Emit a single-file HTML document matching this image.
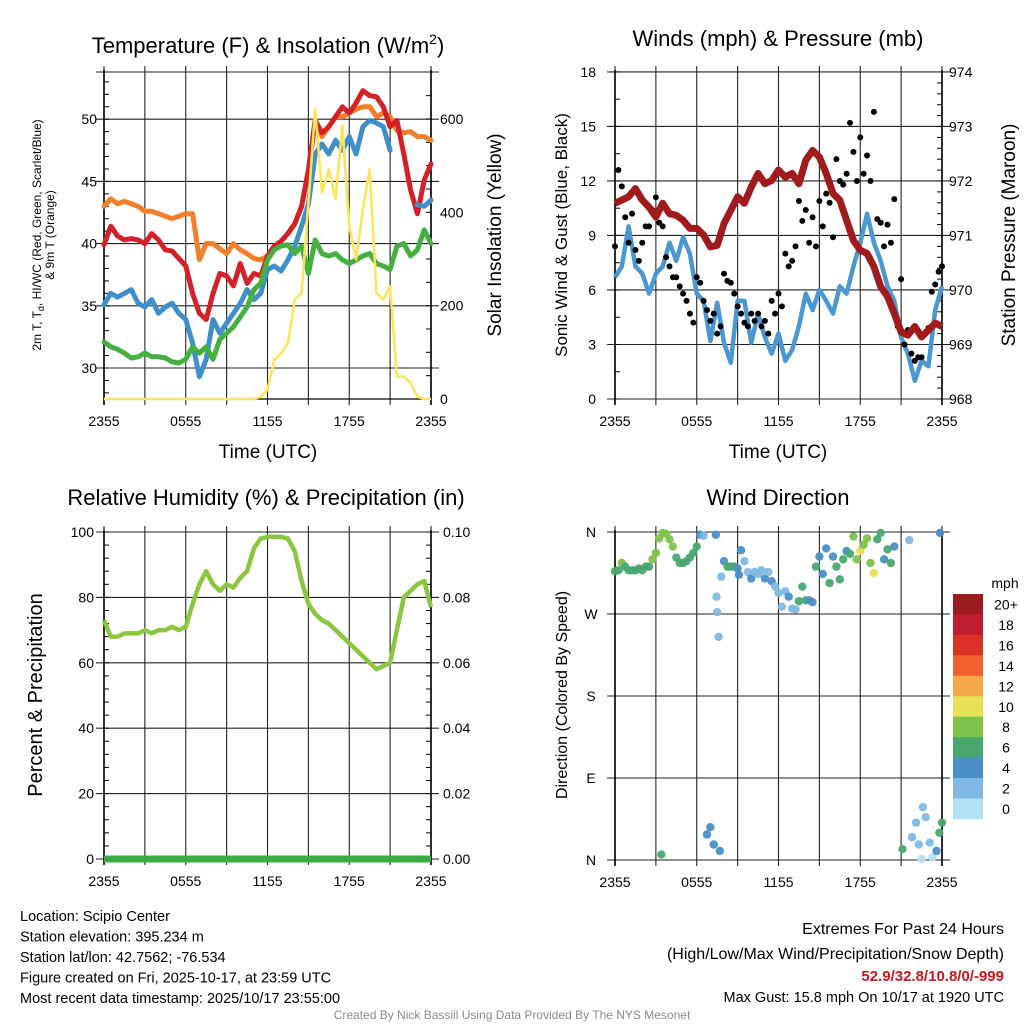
<!DOCTYPE html>
<html><head><meta charset="utf-8"><style>
html,body{margin:0;padding:0;background:#fff;}
svg{display:block;font-family:"Liberation Sans",sans-serif;}
</style></head><body>
<svg id="c" width="1024" height="1024" viewBox="0 0 1024 1024" xmlns="http://www.w3.org/2000/svg"></svg>
<script>
// ---------- DATA (half-hourly from 2355 UTC, 49 points) ----------
const xTickLabels = ["2355","0555","1155","1755","2355"];
const xTickHours = [0,6,12,18,24];
const tempTicks = [30,35,40,45,50];
const solarTicks = [0,200,400,600];
const windTicks = [0,3,6,9,12,15,18];
const presTicks = [968,969,970,971,972,973,974];
const rhTicks = [0,20,40,60,80,100];
const precipTicks = ["0.00","0.02","0.04","0.06","0.08","0.10"];
const dirTicks = ["N","W","S","E","N"];
const cbarLabels = ["20+","18","16","14","12","10","8","6","4","2","0"];
const cbarColors = ["#9b1b1e","#be1e2d","#dc3127","#f0622e","#f6a84b","#e8e057","#7dc24b","#4aa66f","#4a8fc6","#7fb9e3","#b5e0f7"];

const temp9m = [43.0,43.6,43.2,43.4,43.2,43.0,42.6,42.6,42.4,42.2,42.0,42.2,42.4,42.4,38.7,40.0,40.0,39.6,39.2,40.0,39.5,39.2,38.8,38.7,39.0,39.8,40.2,40.8,41.6,43.0,45.9,49.9,48.6,49.4,50.2,50.2,50.5,50.8,51.0,51.0,50.2,50.5,50.2,49.1,48.9,49.0,48.6,48.6,48.3];
const temp2m = [39.9,41.4,40.6,40.3,40.4,40.3,40.0,40.8,40.3,39.5,39.4,38.8,38.2,36.0,34.4,33.9,36.0,37.6,37.4,36.6,38.4,36.8,37.6,37.4,39.0,39.8,40.2,40.8,41.6,43.0,45.9,49.9,48.9,49.4,50.2,51.0,50.5,51.3,52.3,51.9,51.8,51.0,49.4,49.9,47.2,44.3,42.4,45.1,46.4];
const heatIndex = [35.1,36.0,35.7,36.0,36.3,35.2,34.9,35.5,34.4,34.9,35.2,34.4,33.9,32.0,29.3,30.7,33.9,32.8,33.6,34.4,35.2,36.3,35.5,36.0,37.9,38.2,37.8,38.7,39.8,41.4,43.2,47.2,48.0,47.2,48.3,47.5,48.6,47.2,49.4,49.9,49.7,49.4,47.5,null,null,null,43.1,43.0,43.5];
const dewpoint = [32.1,31.7,31.5,31.2,30.8,30.9,31.2,30.9,30.9,30.8,30.5,30.4,30.7,31.7,31.2,31.7,30.7,32.3,32.8,33.3,34.1,34.9,36.3,36.8,38.7,39.5,39.8,39.9,39.2,39.8,37.6,40.3,39.2,39.0,39.2,38.7,38.4,38.7,39.0,39.2,38.4,38.2,37.9,39.8,40.0,39.0,39.5,41.1,40.0];
const solar = [0,0,0,0,0,0,0,0,0,0,0,0,0,0,0,0,0,0,0,0,0,0,0,5,20,84,98,120,213,227,420,621,442,492,428,586,370,299,406,492,227,213,241,48,48,34,5,0,0];

const pressure = [971.59,971.65,971.71,971.86,971.65,971.52,971.34,971.59,971.40,971.37,971.28,971.13,971.13,971.01,970.79,970.82,971.22,971.46,971.71,971.59,971.89,972.14,971.95,972.01,972.20,972.07,972.14,971.95,972.38,972.56,972.44,972.14,971.77,971.65,971.28,970.91,970.73,970.67,970.43,970.06,969.88,969.57,969.23,969.17,969.33,969.14,969.26,969.39,969.33];
const windSpeed = [6.7,7.3,9.5,7.3,6.9,5.8,6.9,7.3,8.6,7.6,8.9,8.0,5.8,5.4,3.2,5.3,3.1,2.0,5.4,5.4,3.1,4.7,3.4,2.5,3.6,2.1,2.7,4.0,5.8,4.9,6.0,5.4,4.7,6.2,5.8,7.3,8.6,10.2,8.6,7.6,6.2,5.4,3.4,2.5,1.0,2.1,1.8,4.9,6.2];
const gustA = [8.4,11.7,8.6,8.2,8.6,9.5,11.1,9.5,7.3,6.7,5.8,4.7,6.7,5.4,4.3,3.6,6.9,6.4,5.1,4.2,4.7,4.7,4.3,5.4,5.8,8.0,7.6,10.9,10.4,10.0,10.9,11.3,8.9,12.0,12.4,13.6,14.4,13.4,15.8,9.7,9.6,11.0,6.6,3.8,2.1,2.3,3.9,6.3,7.3];
const gustB = [12.6,10.0,10.2,7.6,9.5,10.4,9.7,7.8,6.7,6.2,5.4,4.2,6.4,4.9,4.7,4.0,6.5,5.8,4.7,4.0,4.3,4.0,3.6,4.7,5.1,7.3,8.4,9.8,8.6,8.4,9.5,10.8,13.2,11.8,15.2,12.0,12.4,12.0,9.9,8.4,8.6,4.0,3.0,2.5,2.3,3.6,5.9,7.0];

const relHum = [73,68,68,69,69,69,70,69,70,70,71,70,71,78,84,88,84,82,84,83,86,88,95,98,98.5,98.5,98.5,98,94,85,78,75,73,72,70,68,66,64,62,60,58,59,60,70,80,82,84,85,77];
const precip = [0,0,0,0,0,0,0,0,0,0,0,0,0,0,0,0,0,0,0,0,0,0,0,0,0,0,0,0,0,0,0,0,0,0,0,0,0,0,0,0,0,0,0,0,0,0,0,0,0];

const wdHour = [0,0.25,0.5,0.75,1,1.25,1.5,1.75,2,2.25,2.5,2.75,3,3.25,3.4,3.5,3.75,4,4.25,4.5,4.75,5,5.25,5.5,5.75,6,6.25,6.5,6.75,7,7.25,7.4,7.45,7.5,7.6,7.7,7.8,8,8.25,8.5,8.75,9,9.1,9.25,9.5,9.75,10,10.25,10.5,10.75,11,11.25,11.5,11.75,12,12.25,12.5,12.75,13,13.25,13.5,13.75,14,14.25,14.5,14.75,15,15.25,15.5,15.75,16,16.25,16.5,16.75,17,17.25,17.5,17.75,18,18.25,18.5,18.75,19,19.25,19.5,19.75,20,20.25,20.5,21.1,21.6,21.8,22.1,22.3,22.5,22.6,22.8,23.1,23.3,23.6,23.8,23.85,24];
const wdDir = [317,318,326,322,318,318,318,320,318,322,322,330,337,353,6,359,358,352,344,332,326,326,328,332,337,344,357,356,28,36,17,357,289,272,245,10,311,328,322,322,322,320,313,340,328,316,309,316,314,318,309,316,306,300,293,278,295,289,276,275,284,300,285,285,283,322,333,314,342,304,333,322,308,330,339,336,355,330,339,346,353,326,315,352,359,330,341,326,344,12,351,25,41,17,1,58,47,19,3,10,30,359,41];
const wdSpd = [7,7,9,7,7,6,7,7,6,7,7,8,8,9,6,8,9,9,9,7,7,7,7,7,7,6,5,3,4,4,4,4,3,3,3,4,3,4,6,6,6,4,4,4,3,3,4,3,3,3,4,3,4,3,3,2,3,4,3,2,6,7,6,4,5,6,5,5,4,6,5,7,6,7,5,7,8,9,10,8,9,8,10,6,7,4,6,6,4,6,3,3,3,2,0,2,2,3,1,4,6,4,7];

// ---------- helpers ----------
const svg = document.getElementById('c');
const NS = 'http://www.w3.org/2000/svg';
function mk(tag, attrs, parent){
  const e = document.createElementNS(NS, tag);
  for (const k in attrs) e.setAttribute(k, attrs[k]);
  (parent||svg).appendChild(e);
  return e;
}
function txt(s, x, y, size, anchor, parent, extra){
  const t = mk('text', Object.assign({x:x, y:y, 'font-size':size, 'text-anchor':anchor||'middle', fill:'#000'}, extra||{}), parent);
  t.textContent = s;
  return t;
}
function hx(x0,x1){ return h => x0 + (x1-x0)*h/24; }
function linePath(vals, xf, yf){
  let d = '', pen = false;
  vals.forEach((v,i)=>{
    if (v === null){ pen=false; return; }
    d += (pen?'L':'M') + xf(i*0.5).toFixed(1) + ' ' + yf(v).toFixed(1) + ' ';
    pen = true;
  });
  return d;
}
function frame(g, x0, x1, yTop, yBot, hLines){
  // vertical grid every 3h
  for (let h=0; h<=24; h+=3){
    const x = hx(x0,x1)(h);
    const l = mk('line',{x1:x,x2:x,y1:yTop-6,y2:yBot+6,stroke:'#222','stroke-width':1.1},g);
    
    
  }
  hLines.forEach(y=>{
    const l = mk('line',{x1:x0-8,x2:x1+8,y1:y,y2:y,stroke:'#222','stroke-width':1.1},g);
    
    
  });
  const b = mk('line',{x1:x0,x2:x0,y1:yTop-2,y2:yBot+6,stroke:'#000','stroke-width':1.6},g);
  
  
  const r = mk('line',{x1:x1,x2:x1,y1:yTop-2,y2:yBot+6,stroke:'#000','stroke-width':1.6},g);
  
  
  xTickHours.forEach((h,i)=>{
    const t = txt(xTickLabels[i], hx(x0,x1)(h), yBot+27, 14, 'middle', g);
    
    
  });
}

// ================= PANEL 1 =================
(function(){
  const g = mk('g',{});
  
  
  const X0=104, X1=431, YT=72, YB=399;
  const xf = hx(X0,X1);
  const yT = v => 368 - (v-30)*12.44;
  const yS = v => 399 - v*0.4667;
  frame(g, X0, X1, YT, YB, tempTicks.map(yT).concat([YT]));
  mk('line',{x1:X0,x2:X1,y1:YB,y2:YB,stroke:'#000','stroke-width':1.2},g);
  tempTicks.forEach(v=>{ const t=txt(String(v), 97, yT(v)+5, 14, 'end', g);   });
  solarTicks.forEach(v=>{ const t=txt(String(v), 440, yS(v)+5, 14, 'start', g);   });
  for (let s=50; s<700; s+=50){ mk('line',{x1:X1,x2:X1-5,y1:yS(s),y2:yS(s),stroke:'#000'},g); }
  for (let v=28; v<54; v+=1){ mk('line',{x1:X0,x2:X0+5,y1:yT(v),y2:yT(v),stroke:'#000'},g); }
  const series = [[temp9m,'#f47f2a',5,'orange-9m-temp-line'],[temp2m,'#d42027',5,'red-2m-temp-line'],[heatIndex,'#3f8fcb',5,'blue-heat-index-line'],[dewpoint,'#44b040',5,'green-dewpoint-line']];
  series.forEach(s=>{
    const p = mk('path',{d:linePath(s[0],xf,yT),fill:'none',stroke:s[1],'stroke-width':s[2],'stroke-linejoin':'round','stroke-linecap':'round'},g);
    
    
  });
  const ys = mk('path',{d:linePath(solar,xf,yS),fill:'none',stroke:'#fde55a','stroke-width':2.6,'stroke-linejoin':'round'},g);
  
  
  const ti = txt('', 268, 53, 22, 'middle', g);
  ti.innerHTML = 'Temperature (F) &amp; Insolation (W/m<tspan font-size="14" dy="-9">2</tspan><tspan dy="9">)</tspan>';
  
  
  const xl = txt('Time (UTC)', 268, 458, 19, 'middle', g);
  
  
  const yl = mk('text',{transform:'translate(41,235) rotate(-90)','font-size':12,'text-anchor':'middle'},g);
  yl.innerHTML = '2m T, T<tspan font-size="9" dy="3">d</tspan><tspan dy="-3">, HI/WC (Red, Green, Scarlet/Blue)</tspan>';
  
  
  const yl2 = mk('text',{transform:'translate(54,235) rotate(-90)','font-size':12,'text-anchor':'middle'},g);
  yl2.textContent = '& 9m T (Orange)';
  
  
  const yr = mk('text',{transform:'translate(501,235) rotate(-90)','font-size':19,'text-anchor':'middle'},g);
  yr.textContent = 'Solar Insolation (Yellow)';
  
  
})();

// ================= PANEL 2 =================
(function(){
  const g = mk('g',{});
  
  
  const X0=615, X1=942, YT=72, YB=399;
  const xf = hx(X0,X1);
  const yW = v => 399 - v*18.17;
  const yP = v => 399 - (v-968)*54.5;
  frame(g, X0, X1, YT, YB, windTicks.map(yW));
  windTicks.forEach(v=>{ const t=txt(String(v), 596, yW(v)+5, 14, 'end', g);   });
  presTicks.forEach(v=>{ const t=txt(String(v), 949, yP(v)+5, 14, 'start', g);   });
  for (let v=0; v<=18; v+=1.5){ mk('line',{x1:X0,x2:X0+5,y1:yW(v),y2:yW(v),stroke:'#000'},g); }
  for (let v=968; v<=974; v+=0.2){ mk('line',{x1:X1,x2:X1-5,y1:yP(v),y2:yP(v),stroke:'#000'},g); }
  const wl = mk('path',{d:linePath(windSpeed,xf,yW),fill:'none',stroke:'#4a97d2','stroke-width':4.5,'stroke-linejoin':'round'},g);
  
  
  gustA.forEach((v,i)=>{
    const c = mk('circle',{cx:xf(i*0.5),cy:yW(v),r:3,fill:'#000'},g);
    
    
  });
  gustB.forEach((v,i)=>{
    const c = mk('circle',{cx:xf(i*0.5+0.25),cy:yW(v),r:3,fill:'#000'},g);
    
    
  });
  const pl = mk('path',{d:linePath(pressure,xf,yP),fill:'none',stroke:'#a11a1c','stroke-width':7,'stroke-linejoin':'round'},g);
  
  
  const ti = txt('Winds (mph) & Pressure (mb)', 778, 46, 22, 'middle', g);
  
  
  const xl = txt('Time (UTC)', 778, 458, 19, 'middle', g);
  
  
  const yl = mk('text',{transform:'translate(567,235) rotate(-90)','font-size':17,'text-anchor':'middle'},g);
  yl.textContent = 'Sonic Wind & Gust (Blue, Black)';
  
  
  const yr = mk('text',{transform:'translate(1015,235) rotate(-90)','font-size':19,'text-anchor':'middle'},g);
  yr.textContent = 'Station Pressure (Maroon)';
  
  
})();

// ================= PANEL 3 =================
(function(){
  const g = mk('g',{});
  
  
  const X0=104, X1=431, YT=532, YB=859;
  const xf = hx(X0,X1);
  const yR = v => 859 - v*3.27;
  frame(g, X0, X1, YT, YB, rhTicks.map(yR));
  rhTicks.forEach(v=>{ const t=txt(String(v), 94, yR(v)+5, 14, 'end', g);   });
  precipTicks.forEach((s,i)=>{ const t=txt(s, 443, yR(rhTicks[i])+5, 14, 'start', g);   });
  for (let v=0; v<=100; v+=4){ mk('line',{x1:X0,x2:X0+5,y1:yR(v),y2:yR(v),stroke:'#000'},g); mk('line',{x1:X1,x2:X1-5,y1:yR(v),y2:yR(v),stroke:'#000'},g); }
  const rl = mk('path',{d:linePath(relHum,xf,yR),fill:'none',stroke:'#8cc63f','stroke-width':4.5,'stroke-linejoin':'round'},g);
  
  
  const pp = mk('path',{d:linePath(precip,xf,v=>yR(v*1000)),fill:'none',stroke:'#3daa48','stroke-width':7},g);
  
  
  const ti = txt('Relative Humidity (%) & Precipitation (in)', 266, 505, 22, 'middle', g);
  
  
  const yl = mk('text',{transform:'translate(42,695) rotate(-90)','font-size':20,'text-anchor':'middle'},g);
  yl.textContent = 'Percent & Precipitation';
  
  
})();

// ================= PANEL 4 =================
(function(){
  const g = mk('g',{});
  
  
  const X0=615, X1=942, YT=532, YB=860;
  const xf = hx(X0,X1);
  const yD = d => 860 - d*0.9111;
  frame(g, X0, X1, YT, YB, [0,90,180,270,360].map(yD));
  dirTicks.forEach((s,i)=>{ const t=txt(s, 591, yD(360-i*90)+5, 14, 'middle', g);   });
  wdHour.forEach((h,i)=>{
    const bin = Math.min(10, Math.floor(wdSpd[i]/2));
    const c = mk('circle',{cx:xf(h),cy:yD(wdDir[i]),r:4.2,fill:cbarColors[10-bin],'fill-opacity':0.95},g);
    
    
  });
  cbarColors.forEach((col,i)=>{
    const r = mk('rect',{x:953,y:594+i*20.45,width:30,height:20.9,fill:col},g);
    
    
    const t = txt(cbarLabels[i], 1006, 594+i*20.45+15.5, 14, 'middle', g);
    
    
  });
  const u = txt('mph', 1005, 588, 14, 'middle', g);
  
  
  const ti = txt('Wind Direction', 778, 505, 22, 'middle', g);
  
  
  const yl = mk('text',{transform:'translate(567,695) rotate(-90)','font-size':16,'text-anchor':'middle'},g);
  yl.textContent = 'Direction (Colored By Speed)';
  
  
})();

// ================= FOOTER =================
(function(){
  const g = mk('g',{});
  
  
  const left = ['Location: Scipio Center','Station elevation: 395.234 m','Station lat/lon: 42.7562; -76.534','Figure created on Fri, 2025-10-17, at 23:59 UTC','Most recent data timestamp: 2025/10/17 23:55:00'];
  left.forEach((s,i)=>{ const t=txt(s, 20, 921+i*20.5, 14.5, 'start', g);   });
  const a = txt('Extremes For Past 24 Hours', 1004, 934, 16, 'end', g);
   
  const b = txt('(High/Low/Max Wind/Precipitation/Snow Depth)', 1004, 959, 16, 'end', g);
   
  const c = txt('52.9/32.8/10.8/0/-999', 1004, 981, 15, 'end', g, {fill:'#c8161e','font-weight':'bold'});
   
  const d = txt('Max Gust: 15.8 mph On 10/17 at 1920 UTC', 1004, 1002, 14.5, 'end', g);
   
  const e = txt('Created By Nick Bassill Using Data Provided By The NYS Mesonet', 512, 1019, 12, 'middle', g, {fill:'#8a8a8a'});
   
})();
</script>
</body></html>
